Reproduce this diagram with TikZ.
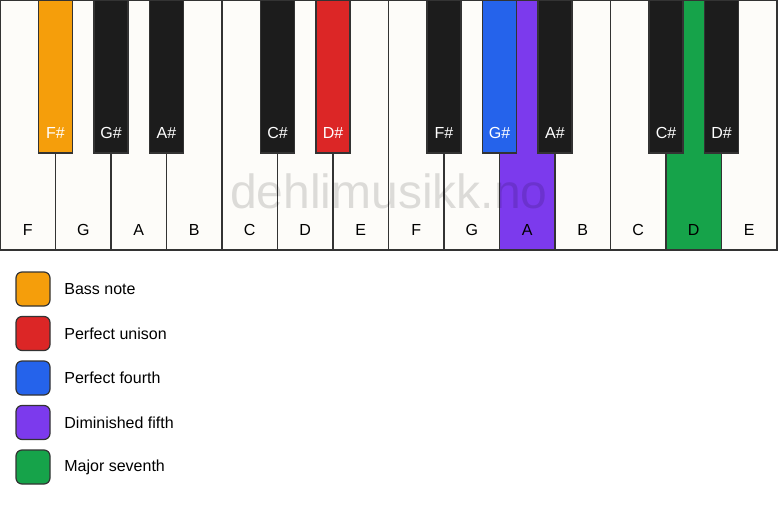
\documentclass[tikz,border=0pt]{standalone}
\usepackage{fontspec}
\setmainfont{Liberation Sans}
\usetikzlibrary{positioning}

\definecolor{keywhite}{HTML}{FDFCF9}
\definecolor{keyblack}{HTML}{1C1C1C}
\definecolor{keyline}{HTML}{333333}
\definecolor{bass}{HTML}{F59E0B}
\definecolor{unison}{HTML}{DC2626}
\definecolor{fourth}{HTML}{2563EB}
\definecolor{dimfifth}{HTML}{7C3AED}
\definecolor{seventh}{HTML}{16A34A}

\begin{document}
\begin{tikzpicture}[x=1pt,y=-1pt,font=\fontsize{16}{19}\selectfont,
thick]
\tikzstyle{whitekey}=[draw=keyline,fill=keywhite,line width=1.2pt,minimum width=55.5pt,minimum height=250pt,inner sep=0pt,outer sep=0pt]
\tikzstyle{blackkey}=[draw=keyline,fill=keyblack,line width=1.2pt,minimum width=34pt,minimum height=153pt,inner sep=0pt,outer sep=0pt,anchor=north]
\tikzstyle{keytext}=[anchor=center,yshift=20pt,inner sep=0pt]
\tikzstyle{swatch}=[draw=keyline,line width=1.2pt,rounded corners=6pt,minimum size=34pt,inner sep=0pt,outer sep=0pt]
\tikzstyle{legendtext}=[anchor=west,inner sep=0pt]

\useasboundingbox (0,0) rectangle (778,506);

% white keys
\node[whitekey,anchor=north west,label={[keytext]south:F}] (F1) at (0,0) {};
\node[whitekey,label={[keytext]south:G}] (G1) [right=0pt of F1] {};
\node[whitekey,label={[keytext]south:A}] (A1) [right=0pt of G1] {};
\node[whitekey,label={[keytext]south:B}] (B1) [right=0pt of A1] {};
\node[whitekey,label={[keytext]south:C}] (C1) [right=0pt of B1] {};
\node[whitekey,label={[keytext]south:D}] (D1) [right=0pt of C1] {};
\node[whitekey,label={[keytext]south:E}] (E1) [right=0pt of D1] {};
\node[whitekey,label={[keytext]south:F}] (F2) [right=0pt of E1] {};
\node[whitekey,label={[keytext]south:G}] (G2) [right=0pt of F2] {};
\node[whitekey,fill=dimfifth,label={[keytext]south:A}] (A2) [right=0pt of G2] {};
\node[whitekey,label={[keytext]south:B}] (B2) [right=0pt of A2] {};
\node[whitekey,label={[keytext]south:C}] (C2) [right=0pt of B2] {};
\node[whitekey,fill=seventh,label={[keytext]south:D}] (D2) [right=0pt of C2] {};
\node[whitekey,label={[keytext]south:E}] (E2) [right=0pt of D2] {};

% watermark
\node[anchor=base,font=\fontsize{48}{50}\selectfont,text=black,opacity=0.13] (mark) at (389,208) {dehlimusikk.no};

% black keys
\node[blackkey,fill=bass,label={[keytext,white]south:F\#}] (Fs1) at (F1.north east) {};
\node[blackkey,label={[keytext,white]south:G\#}] (Gs1) at (G1.north east) {};
\node[blackkey,label={[keytext,white]south:A\#}] (As1) at (A1.north east) {};
\node[blackkey,label={[keytext,white]south:C\#}] (Cs1) at (C1.north east) {};
\node[blackkey,fill=unison,label={[keytext,white]south:D\#}] (Ds1) at (D1.north east) {};
\node[blackkey,label={[keytext,white]south:F\#}] (Fs2) at (F2.north east) {};
\node[blackkey,fill=fourth,label={[keytext,white]south:G\#}] (Gs2) at (G2.north east) {};
\node[blackkey,label={[keytext,white]south:A\#}] (As2) at (A2.north east) {};
\node[blackkey,label={[keytext,white]south:C\#}] (Cs2) at (C2.north east) {};
\node[blackkey,label={[keytext,white]south:D\#}] (Ds2) at (D2.north east) {};

% legend
\node[swatch,fill=bass] (Lbass) at (33,289) {};
\node[swatch,fill=unison] (Lunison) [below=10.5pt of Lbass] {};
\node[swatch,fill=fourth] (Lfourth) [below=10.5pt of Lunison] {};
\node[swatch,fill=dimfifth] (Lfifth) [below=10.5pt of Lfourth] {};
\node[swatch,fill=seventh] (Lseventh) [below=10.5pt of Lfifth] {};

\node[legendtext] (Tbass) [right=14pt of Lbass] {Bass note};
\node[legendtext] (Tunison) [right=14pt of Lunison] {Perfect unison};
\node[legendtext] (Tfourth) [right=14pt of Lfourth] {Perfect fourth};
\node[legendtext] (Tfifth) [right=14pt of Lfifth] {Diminished fifth};
\node[legendtext] (Tseventh) [right=14pt of Lseventh] {Major seventh};
\end{tikzpicture}
\end{document}
